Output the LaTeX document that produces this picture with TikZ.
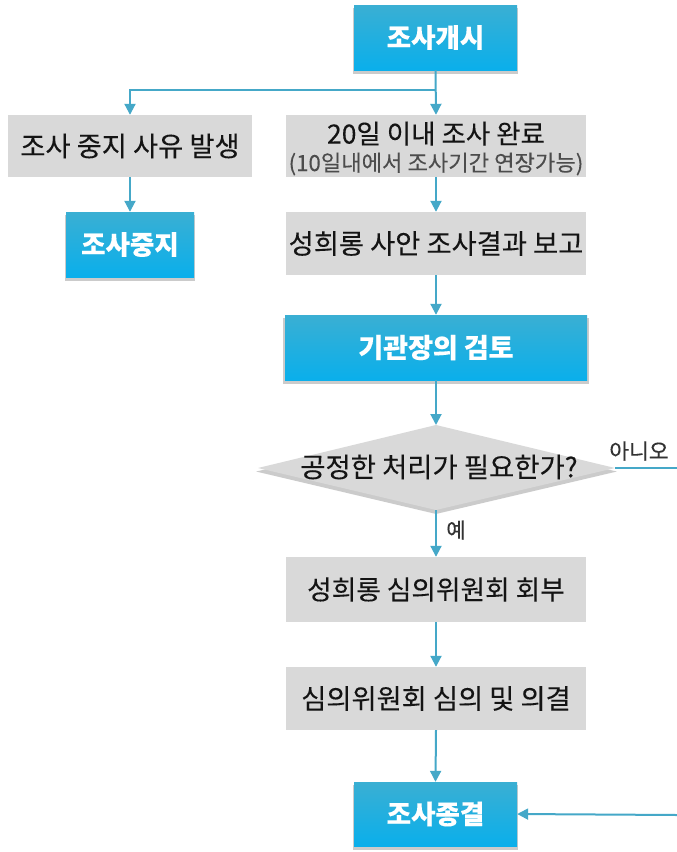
\documentclass[tikz,border=0pt]{standalone}
\usepackage{fontspec}
\setmainfont[RawFeature={embolden=0.15}]{Noto Sans CJK KR}
\usetikzlibrary{arrows.meta,shadows,calc}
\definecolor{linec}{HTML}{45A8C8}
\definecolor{boxgray}{HTML}{D9D9D9}
\definecolor{btop}{HTML}{3AAFD3}
\definecolor{bbot}{HTML}{0AAFEB}
\definecolor{txt}{HTML}{141414}
\newcommand{\fs}[1]{\fontsize{#1}{#1}\selectfont}
\tikzset{
  shad/.style={drop shadow={shadow xshift=0pt, shadow yshift=-3.5pt, shadow scale=1.01, fill=black!40, opacity=0.5}},
  graybox/.style={fill=boxgray, draw=none, inner sep=0pt, align=center, text=txt},
  bluebox/.style={top color=btop, bottom color=bbot, draw=none, text=white,
    font=\bfseries\fs{26.5}, inner sep=0pt, shad},
  arr/.style={draw=linec, line width=2pt, -{Triangle[width=11pt,length=11pt]}},
  conn/.style={draw=linec, line width=2pt},
}
\begin{document}
\begin{tikzpicture}[x=1pt,y=-1pt]
\useasboundingbox[fill=white] (0,0) rectangle (677,852);
% blue boxes
\node[bluebox, minimum width=163pt, minimum height=65pt] (start) at (435.5,37.5) {조사개시};
\node[bluebox, minimum width=128pt, minimum height=65pt] (stop) at (130,244.5) {조사중지};
\node[bluebox, minimum width=302pt, minimum height=65pt, font=\bfseries\fs{27}] (review) at (436,347.5) {기관장의 검토};
\node[bluebox, minimum width=163pt, minimum height=64pt] (end) at (435.5,814) {조사종결};
% gray boxes
\node[graybox, minimum width=244pt, minimum height=62pt, font=\fs{27.3}] (reason) at (130,146) {조사 중지 사유 발생};
\node[graybox, minimum width=300pt, minimum height=62pt] (c20) at (436,146) {};
\node[text=txt, inner sep=0pt, align=center] (c20text) at (436,148.5)
  {{\fs{26.5}20일 이내 조사 완료}\\[6pt]{\fs{22.2}\color{black!70}(10일내에서 조사기간 연장가능)}};
\node[graybox, minimum width=300pt, minimum height=63pt, font=\fs{27.3}] (report) at (436,243.5) {성희롱 사안 조사결과 보고};
\node[graybox, minimum width=300pt, minimum height=65pt, font=\fs{26.7}] (refer) at (436,589.5) {성희롱 심의위원회 회부};
\node[graybox, minimum width=300pt, minimum height=63pt, font=\fs{27.3}] (delib) at (436,698.5) {심의위원회 심의 및 의결};
% decision diamond
\coordinate (dtop) at (436,425);
\coordinate (dright) at (615,468);
\coordinate (dbot) at (436,510);
\coordinate (dleft) at (258,468);
\path[fill=boxgray, shad] (dtop) -- (dright) -- (dbot) -- (dleft) -- cycle;
\node[text=txt, font=\fs{27.4}, inner sep=0pt] (dtext) at (439,467) {공정한 처리가 필요한가?};
% connectors
\coordinate (split) at (436,90);
\coordinate (noend) at (677,468);
\coordinate (noin) at (677,815);
\draw[arr] (start.south) -- (c20.north);
\draw[arr] (split) -| (reason.north);
\draw[arr] (reason.south) -- (stop.north);
\draw[arr] (c20.south) -- (report.north);
\draw[arr] (report.south) -- (review.north);
\draw[arr] (review.south) -- (dtop);
\draw[arr] (dbot) -- (refer.north);
\draw[arr] (refer.south) -- (delib.north);
\draw[arr] (delib.south) -- (end.north);
\draw[conn] (dright) -- (noend);
\draw[arr] (noin) -- (end.east);
% labels
\node[font=\fs{21.5}, text=black!80, inner sep=0pt] (nolabel) at (639,451) {아니오};
\node[font=\fs{21}, text=black!80, inner sep=0pt] (yeslabel) at (456,530) {예};
\end{tikzpicture}
\end{document}
